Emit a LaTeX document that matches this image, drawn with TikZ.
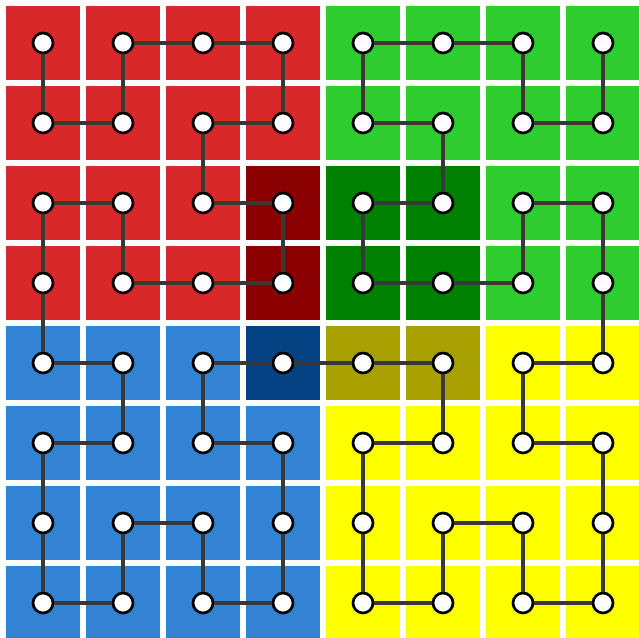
\documentclass[tikz,border=0pt]{standalone}
\usepackage{amsmath,amssymb}
\usepackage{color}
\usepackage{tikz}

\definecolor{rojo}{RGB}{216,40,42}
\definecolor{rojoosc}{RGB}{139,0,0}
\definecolor{verde}{RGB}{46,204,46}
\definecolor{verdeosc}{RGB}{0,128,0}
\definecolor{azul}{RGB}{52,130,212}
\definecolor{azulosc}{RGB}{4,66,132}
\definecolor{amarillo}{RGB}{255,255,0}
\definecolor{oliva}{RGB}{168,160,0}

\begin{document}
\begin{tikzpicture}
\tikzset{vertice/.style={draw,circle,inner sep=0pt,minimum size=0.25cm,line width=0.95pt,fill=white}}
\tikzset{camino/.style={line width=1.4pt,color=black!78}}

\useasboundingbox (-0.5375,0.5375) rectangle (7.45,-7.4375);

% cuadrantes
\fill[rojo] (-0.5,0.5) rectangle (3.5,-3.5);
\fill[verde] (3.5,0.5) rectangle (7.5,-3.5);
\fill[azul] (-0.5,-3.5) rectangle (3.5,-7.5);
\fill[amarillo] (3.5,-3.5) rectangle (7.5,-7.5);
% celdas oscuras del centro
\fill[rojoosc] (2.5,-1.5) rectangle (3.5,-3.5);
\fill[verdeosc] (3.5,-1.5) rectangle (5.5,-3.5);
\fill[azulosc] (2.5,-3.5) rectangle (3.5,-4.5);
\fill[oliva] (3.5,-3.5) rectangle (5.5,-4.5);
% rejilla blanca
\draw[black!30,line width=0.085cm,shift={(-0.5,0.5)}] (0,-8) grid (8,0);
\draw[white,line width=0.07cm,shift={(-0.5,0.5)}] (0,-8) grid (8,0);

% cuadrante rojo
\node (1) at (0,0) [vertice] {};
\node (2) at (0,-1) [vertice] {};
\node (3) at (1,-1) [vertice] {};
\node (4) at (1,0) [vertice] {};
\node (5) at (2,0) [vertice] {};
\node (6) at (3,0) [vertice] {};
\node (7) at (3,-1) [vertice] {};
\node (8) at (2,-1) [vertice] {};
\node (9) at (2,-2) [vertice] {};
\node (10) at (3,-2) [vertice] {};
\node (11) at (3,-3) [vertice] {};
\node (12) at (2,-3) [vertice] {};
\node (13) at (1,-3) [vertice] {};
\node (14) at (1,-2) [vertice] {};
\node (15) at (0,-2) [vertice] {};
\node (16) at (0,-3) [vertice] {};
% cuadrante azul
\node (17) at (0,-4) [vertice] {};
\node (18) at (1,-4) [vertice] {};
\node (19) at (1,-5) [vertice] {};
\node (20) at (0,-5) [vertice] {};
\node (21) at (0,-6) [vertice] {};
\node (22) at (0,-7) [vertice] {};
\node (23) at (1,-7) [vertice] {};
\node (24) at (1,-6) [vertice] {};
\node (25) at (2,-6) [vertice] {};
\node (26) at (2,-7) [vertice] {};
\node (27) at (3,-7) [vertice] {};
\node (28) at (3,-6) [vertice] {};
\node (29) at (3,-5) [vertice] {};
\node (30) at (2,-5) [vertice] {};
\node (31) at (2,-4) [vertice] {};
\node (32) at (3,-4) [vertice] {};
% cuadrante amarillo
\node (33) at (4,-4) [vertice] {};
\node (34) at (5,-4) [vertice] {};
\node (35) at (5,-5) [vertice] {};
\node (36) at (4,-5) [vertice] {};
\node (37) at (4,-6) [vertice] {};
\node (38) at (4,-7) [vertice] {};
\node (39) at (5,-7) [vertice] {};
\node (40) at (5,-6) [vertice] {};
\node (41) at (6,-6) [vertice] {};
\node (42) at (6,-7) [vertice] {};
\node (43) at (7,-7) [vertice] {};
\node (44) at (7,-6) [vertice] {};
\node (45) at (7,-5) [vertice] {};
\node (46) at (6,-5) [vertice] {};
\node (47) at (6,-4) [vertice] {};
\node (48) at (7,-4) [vertice] {};
% cuadrante verde
\node (49) at (7,-3) [vertice] {};
\node (50) at (7,-2) [vertice] {};
\node (51) at (6,-2) [vertice] {};
\node (52) at (6,-3) [vertice] {};
\node (53) at (5,-3) [vertice] {};
\node (54) at (4,-3) [vertice] {};
\node (55) at (4,-2) [vertice] {};
\node (56) at (5,-2) [vertice] {};
\node (57) at (5,-1) [vertice] {};
\node (58) at (4,-1) [vertice] {};
\node (59) at (4,0) [vertice] {};
\node (60) at (5,0) [vertice] {};
\node (61) at (6,0) [vertice] {};
\node (62) at (6,-1) [vertice] {};
\node (63) at (7,-1) [vertice] {};
\node (64) at (7,0) [vertice] {};

\path[camino]
(1) edge (2) (2) edge (3) (3) edge (4) (4) edge (5)
(5) edge (6) (6) edge (7) (7) edge (8) (8) edge (9)
(9) edge (10) (10) edge (11) (11) edge (12) (12) edge (13)
(13) edge (14) (14) edge (15) (15) edge (16) (16) edge (17)
(17) edge (18) (18) edge (19) (19) edge (20) (20) edge (21)
(21) edge (22) (22) edge (23) (23) edge (24) (24) edge (25)
(25) edge (26) (26) edge (27) (27) edge (28) (28) edge (29)
(29) edge (30) (30) edge (31) (31) edge (32) (32) edge (33)
(33) edge (34) (34) edge (35) (35) edge (36) (36) edge (37)
(37) edge (38) (38) edge (39) (39) edge (40) (40) edge (41)
(41) edge (42) (42) edge (43) (43) edge (44) (44) edge (45)
(45) edge (46) (46) edge (47) (47) edge (48) (48) edge (49)
(49) edge (50) (50) edge (51) (51) edge (52) (52) edge (53)
(53) edge (54) (54) edge (55) (55) edge (56) (56) edge (57)
(57) edge (58) (58) edge (59) (59) edge (60) (60) edge (61)
(61) edge (62) (62) edge (63) (63) edge (64);

\end{tikzpicture}
\end{document}
